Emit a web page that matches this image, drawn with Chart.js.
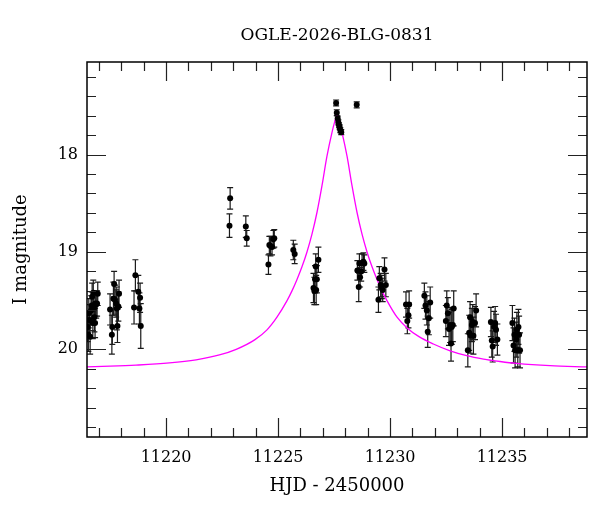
<!DOCTYPE html>
<html>
<head>
<meta charset="utf-8">
<script src="https://cdn.jsdelivr.net/npm/chart.js@4"></script>
<style>
html,body{margin:0;padding:0;background:#fff;}
#wrap{width:600px;height:512px;}
</style>
</head>
<body>
<div id="wrap"><canvas id="c" width="600" height="512"></canvas></div>
<script>
const chartTitle = 'OGLE-2026-BLG-0831';
const xTitle = 'HJD - 2450000';
const yTitle = 'I magnitude';

const obsHJD = [
  11216.50,11216.53,11216.55,11216.58,11216.61,11216.65,11216.68,11216.70,11216.73,11216.75,11216.78,11216.80,11216.83,11216.84,11216.88,11216.92,11216.95,
  11217.50,11217.58,11217.60,11217.65,11217.68,11217.72,11217.77,11217.80,11217.83,11217.87,11217.90,
  11218.57,11218.63,11218.76,11218.81,11218.84,11218.87,
  11222.86,11222.83,11223.56,11223.60,
  11224.57,11224.61,11224.66,11224.73,11224.79,11224.83,
  11225.68,11225.74,
  11226.58,11226.62,11226.65,11226.68,11226.70,11226.73,11226.80,
  11227.59,11227.62,11227.66,11227.69,11227.72,11227.75,11227.78,11227.82,11228.51,
  11228.54,11228.60,11228.63,11228.66,11228.71,11228.75,11228.81,11228.85,
  11229.48,11229.52,11229.58,11229.63,11229.67,11229.75,11229.81,
  11230.71,11230.77,11230.82,11230.85,
  11231.53,11231.58,11231.64,11231.68,11231.73,11231.79,
  11232.49,11232.53,11232.58,11232.63,11232.68,11232.72,11232.75,11232.80,11232.84,
  11233.47,11233.53,11233.57,11233.60,11233.65,11233.69,11233.72,11233.79,11233.84,
  11234.50,11234.54,11234.58,11234.64,11234.69,11234.73,11234.79,
  11235.46,11235.51,11235.55,11235.58,11235.63,11235.66,11235.70,11235.73,11235.76,11235.80
];
const obsMag = [
  19.77,19.85,19.63,19.70,19.87,19.60,19.55,19.46,19.73,19.42,19.58,19.67,19.73,19.53,19.54,19.53,19.43,
  19.59,19.85,19.77,19.48,19.33,19.49,19.53,19.58,19.76,19.56,19.43,
  19.57,19.24,19.41,19.58,19.47,19.76,
  18.45,18.73,18.74,18.86,
  19.13,18.93,18.94,18.95,18.87,18.86,
  18.98,19.02,
  19.37,19.40,19.28,19.15,19.39,19.28,19.08,
  17.47,17.57,17.63,17.67,17.70,17.72,17.75,17.77,17.49,
  19.19,19.36,19.12,19.26,19.20,19.11,19.10,19.12,
  19.49,19.27,19.34,19.36,19.39,19.18,19.34,
  19.54,19.71,19.65,19.54,
  19.45,19.55,19.60,19.82,19.68,19.52,
  19.71,19.55,19.63,19.79,19.75,19.94,19.77,19.75,19.58,
  20.01,19.83,19.67,19.86,19.75,19.72,19.86,19.73,19.60,
  19.72,19.91,19.97,19.77,19.73,19.80,19.90,
  19.73,19.96,19.85,20.01,19.90,19.80,20.01,19.77,19.85,20.01
];
const obsErr = [
  0.15,0.17,0.15,0.16,0.18,0.15,0.14,0.14,0.16,0.13,0.14,0.15,0.15,0.13,0.14,0.13,0.12,
  0.16,0.20,0.18,0.17,0.13,0.15,0.14,0.22,0.17,0.15,0.14,
  0.17,0.16,0.17,0.16,0.15,0.23,
  0.11,0.12,0.11,0.08,
  0.10,0.09,0.10,0.08,0.09,0.09,
  0.10,0.10,
  0.15,0.14,0.14,0.13,0.15,0.14,0.13,
  0.03,0.03,0.025,0.025,0.025,0.025,0.025,0.025,0.03,
  0.10,0.15,0.10,0.10,0.10,0.09,0.09,0.09,
  0.13,0.12,0.12,0.12,0.12,0.12,0.12,
  0.13,0.13,0.13,0.14,
  0.13,0.14,0.15,0.16,0.17,0.16,
  0.16,0.15,0.16,0.17,0.18,0.18,0.18,0.17,0.18,
  0.17,0.18,0.16,0.18,0.17,0.18,0.19,0.17,0.17,
  0.15,0.17,0.16,0.16,0.17,0.16,0.16,
  0.18,0.18,0.17,0.18,0.18,0.18,0.17,0.18,0.19,0.18
];

const modelHJD = [
  11216.47,11217.50,11218.66,11220.15,11221.34,11222.38,11223.13,11223.97,11224.505,11224.95,
  11225.40,11225.62,11225.84,11226.07,11226.29,11226.51,11226.74,11226.96,11227.18,11227.41,
  11227.52,11227.63,11227.74,11227.85,11228.08,11228.30,11228.52,11228.75,11228.97,11229.19,
  11229.42,11229.64,11229.86,11230.31,11230.76,11231.29,11231.93,11232.68,11233.42,11234.17,
  11234.91,11235.66,11237.14,11238.79
];
const modelMag = [
  20.180,20.173,20.162,20.140,20.108,20.058,20.000,19.900,19.800,19.670,
  19.500,19.400,19.285,19.150,19.000,18.820,18.590,18.320,18.020,17.770,
  17.670,17.600,17.670,17.770,18.020,18.320,18.590,18.820,19.000,19.150,
  19.285,19.400,19.500,19.670,19.780,19.870,19.945,20.015,20.065,20.100,
  20.125,20.145,20.168,20.180
];

const X_MIN = 11216.47, X_MAX = 11238.79;
const Y_MIN = 17.05, Y_MAX = 20.9;

const FONT = "'DejaVu Serif', 'Liberation Serif', serif";

const isMajorX = v => Math.abs(v/5 - Math.round(v/5)) < 1e-6;
const isMajorY = v => Math.abs(v - Math.round(v)) < 1e-6;

const errorBars = {
  id: 'errorBars',
  beforeDatasetsDraw(chart) {
    const {ctx, chartArea: a, scales: {x, y}} = chart;
    ctx.save();
    ctx.beginPath();
    ctx.rect(a.left, a.top, a.right - a.left, a.bottom - a.top);
    ctx.clip();
    ctx.strokeStyle = '#1a1a1a';
    ctx.lineWidth = 1.2;
    const cap = 3;
    for (let i = 0; i < obsHJD.length; i++) {
      const px = x.getPixelForValue(obsHJD[i]);
      const y1 = y.getPixelForValue(obsMag[i] - obsErr[i]);
      const y2 = y.getPixelForValue(obsMag[i] + obsErr[i]);
      ctx.beginPath();
      ctx.moveTo(px, y1); ctx.lineTo(px, y2);
      ctx.moveTo(px - cap, y1); ctx.lineTo(px + cap, y1);
      ctx.moveTo(px - cap, y2); ctx.lineTo(px + cap, y2);
      ctx.stroke();
    }
    ctx.restore();
  }
};

const frameTicks = {
  id: 'frameTicks',
  afterDraw(chart) {
    const {ctx, chartArea: a, scales: {x, y}} = chart;
    ctx.save();
    ctx.strokeStyle = '#222';
    ctx.lineWidth = 1.2;
    ctx.beginPath();
    x.ticks.forEach(t => {
      const px = Math.round(x.getPixelForValue(t.value)) + 0.5;
      const len = isMajorX(t.value) ? 19 : 9;
      ctx.moveTo(px, a.bottom); ctx.lineTo(px, a.bottom - len);
      ctx.moveTo(px, a.top); ctx.lineTo(px, a.top + len);
    });
    y.ticks.forEach(t => {
      const py = Math.round(y.getPixelForValue(t.value)) + 0.5;
      const len = isMajorY(t.value) ? 19 : 9;
      ctx.moveTo(a.left, py); ctx.lineTo(a.left + len, py);
      ctx.moveTo(a.right, py); ctx.lineTo(a.right - len, py);
    });
    ctx.stroke();
    ctx.strokeStyle = '#000';
    ctx.lineWidth = 1.5;
    ctx.strokeRect(a.left, a.top, a.right - a.left, a.bottom - a.top);
    ctx.restore();
  }
};

new Chart(document.getElementById('c'), {
  type: 'scatter',
  data: {
    datasets: [
      {
        label: 'OGLE',
        data: obsHJD.map((t, i) => ({x: t, y: obsMag[i]})),
        backgroundColor: '#000',
        borderColor: '#000',
        pointRadius: 3,
        pointHoverRadius: 3,
        borderWidth: 0
      },
      {
        type: 'line',
        label: 'model',
        data: modelHJD.map((t, i) => ({x: t, y: modelMag[i]})),
        borderColor: '#ff00ff',
        borderWidth: 1.3,
        pointRadius: 0,
        fill: false,
        cubicInterpolationMode: 'monotone'
      }
    ]
  },
  options: {
    responsive: false,
    animation: false,
    events: [],
    layout: {padding: {left: 0, right: 13, top: 0, bottom: 0}},
    plugins: {
      legend: {display: false},
      tooltip: {enabled: false},
      title: {
        display: true,
        fullSize: false,
        text: chartTitle,
        color: '#000',
        font: {family: FONT, size: 17, weight: 'normal', lineHeight: 1.2},
        padding: {top: 25, bottom: 16.6}
      }
    },
    scales: {
      x: {
        type: 'linear',
        min: X_MIN, max: X_MAX,
        grid: {display: false, drawTicks: false},
        border: {display: false},
        afterFit: s => { s.height = 75; },
        ticks: {
          stepSize: 1,
          includeBounds: false,
          autoSkip: false,
          maxRotation: 0,
          padding: 11,
          color: '#000',
          font: {family: FONT, size: 16},
          callback: v => isMajorX(v) ? String(Math.round(v)) : ''
        },
        title: {
          display: true,
          text: xTitle,
          color: '#000',
          font: {family: FONT, size: 18, lineHeight: 1.2},
          padding: {top: 0, bottom: 15}
        }
      },
      y: {
        type: 'linear',
        reverse: true,
        min: Y_MIN, max: Y_MAX,
        grid: {display: false, drawTicks: false},
        border: {display: false},
        afterFit: s => { s.width = 87; },
        ticks: {
          stepSize: 0.2,
          includeBounds: false,
          autoSkip: false,
          padding: 9,
          color: '#000',
          font: {family: FONT, size: 16},
          callback: v => isMajorY(v) ? String(Math.round(v)) : ''
        },
        title: {
          display: true,
          text: yTitle,
          color: '#000',
          font: {family: FONT, size: 18, lineHeight: 1.2},
          padding: {top: 11, bottom: 0}
        }
      }
    }
  },
  plugins: [errorBars, frameTicks]
});
</script>
</body>
</html>
